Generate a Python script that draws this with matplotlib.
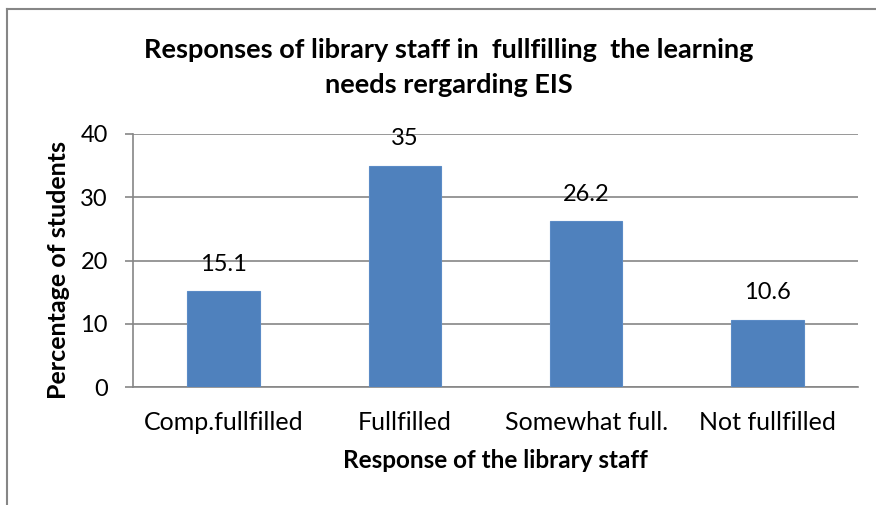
import matplotlib
matplotlib.use("Agg")
import matplotlib.pyplot as plt
from matplotlib.lines import Line2D

categories = ["Comp.fullfilled", "Fullfilled", "Somewhat full.", "Not fullfilled"]
values = [15.1, 35, 26.2, 10.6]
value_labels = ["15.1", "35", "26.2", "10.6"]
yticks = [0, 10, 20, 30, 40]

plt.rcParams['font.family'] = ['Lato', 'DejaVu Sans']

W, H = 876, 505
fig = plt.figure(figsize=(W/100, H/100), dpi=100)
ax = fig.add_axes([133/W, 1-387/H, (858-133)/W, (387-134)/H])

ax.bar(range(len(categories)), values, width=0.4, color="#4F81BD", edgecolor="#5B8BC6", linewidth=0.8, zorder=3)
ax.set_xlim(-0.5, len(categories)-0.5)
ax.set_ylim(0, 40)
ax.set_yticks(yticks)
ax.set_yticklabels([str(t) for t in yticks], fontsize=17)
ax.set_xticks(range(len(categories)))
ax.set_xticklabels(categories, fontsize=18)
ax.tick_params(axis='x', length=0, pad=17)
ax.tick_params(axis='y', length=6, width=1.2, color="#868686", pad=12)
ax.grid(axis='y', color="#868686", linewidth=1.2, zorder=0)
for s in ['top', 'right']:
    ax.spines[s].set_visible(False)
for s in ['left', 'bottom']:
    ax.spines[s].set_color("#868686")
    ax.spines[s].set_linewidth(1.2)

for i, (v, lab) in enumerate(zip(values, value_labels)):
    ax.annotate(lab, (i, v), xytext=(0, 19.5), textcoords='offset points', ha='center', va='center', fontsize=17)

ax.set_ylabel("Percentage of students", fontsize=18, fontweight='bold', va='center')
ax.yaxis.set_label_coords((58-133)/725, (387-270)/253)
ax.set_xlabel("Response of the library staff", fontsize=17.5, fontweight='bold', va='center')
ax.xaxis.set_label_coords(0.5, (387-460)/253)

fig.text(449/W, 1-58/H, "Responses of library staff in  fullfilling  the learning", ha='center', va='baseline', fontsize=19.5, fontweight='bold')
fig.text(449/W, 1-93/H, "needs rergarding EIS", ha='center', va='baseline', fontsize=19.5, fontweight='bold')

# outer frame (left and top edges visible)
fig.add_artist(Line2D([7/W, 7/W], [0, 1-8.5/H], transform=fig.transFigure, color="#868686", linewidth=1.5))
fig.add_artist(Line2D([7/W, 1], [1-8.5/H, 1-8.5/H], transform=fig.transFigure, color="#868686", linewidth=1.5))

fig.savefig("out.png", dpi=100)
